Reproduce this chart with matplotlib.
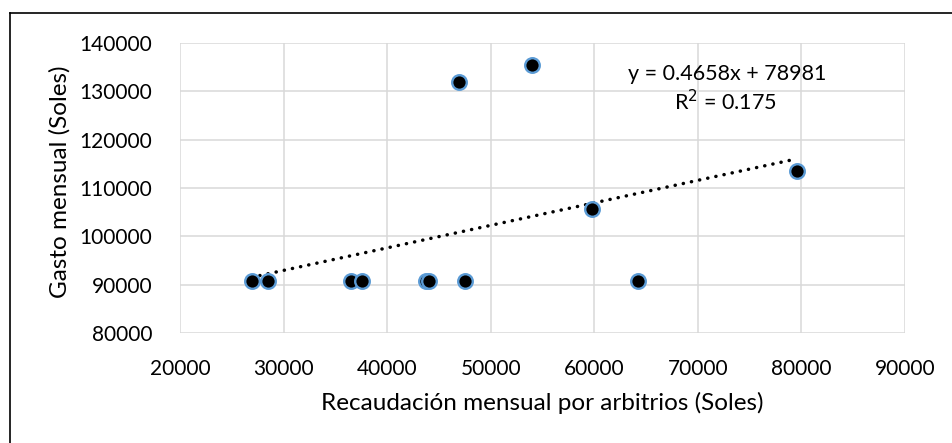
import numpy as np
import matplotlib.pyplot as plt
from matplotlib.lines import Line2D

# Datos
recaudacion = [26920, 28520, 36500, 37600, 43750, 44060, 47500, 46960, 53950, 59800, 64180, 79590]
gasto = [90800, 90800, 90800, 90800, 90800, 90800, 90800, 131870, 135510, 105590, 90820, 113520]

# Línea de tendencia (según la ecuación mostrada)
pendiente = 0.4658
intercepto = 78981
r2 = 0.175

x_ticks = [20000, 30000, 40000, 50000, 60000, 70000, 80000, 90000]
y_ticks = [80000, 90000, 100000, 110000, 120000, 130000, 140000]

plt.rcParams['font.family'] = ['Lato', 'DejaVu Sans']

fig = plt.figure(figsize=(9.52, 4.43), dpi=100)
ax = fig.add_axes([180 / 952, 1 - 333 / 443, 725 / 952, 290 / 443])

ax.set_xlim(20000, 90000)
ax.set_ylim(80000, 140000)
ax.set_xticks(x_ticks)
ax.set_yticks(y_ticks)
ax.grid(True, color="#d9d9d9", linewidth=1.1)
ax.set_axisbelow(True)
for s in ax.spines.values():
    s.set_visible(False)
ax.tick_params(length=0, labelsize=15, colors="black")
ax.tick_params(axis="y", pad=20)
ax.tick_params(axis="x", pad=19)

# Tendencia
xs = np.array([min(recaudacion), max(recaudacion)])
ax.plot(xs, pendiente * xs + intercepto, color="black", linewidth=2.5,
        linestyle=(0, (0.05, 2.35)), dash_capstyle="round", zorder=2)

# Puntos
ax.plot(recaudacion, gasto, linestyle="none", marker="o", markersize=10.5,
        markerfacecolor="black", markeredgecolor="#5b9bd5", markeredgewidth=1.7,
        zorder=3)

fig.text(727 / 952, 1 - 74 / 443, f"y = {pendiente}x + {intercepto}",
         ha="center", va="center", fontsize=15.5)
fig.text(725 / 952, 1 - 102 / 443, f"R$^2$ = {r2}",
         ha="center", va="center", fontsize=15.5)

fig.text(542.5 / 952, 1 - 403 / 443, "Recaudación mensual por arbitrios (Soles)",
         ha="center", va="center", fontsize=17.5)
fig.text(60 / 952, 1 - 182 / 443, "Gasto mensual (Soles)",
         ha="center", va="center", rotation=90, fontsize=17.5)

# Marco exterior (solo bordes visibles)
fig.add_artist(Line2D([10 / 952, 1.0], [1 - 13.3 / 443, 1 - 13.3 / 443],
                      transform=fig.transFigure, color="black", linewidth=1.2))
fig.add_artist(Line2D([10 / 952, 10 / 952], [0.0, 1 - 13.3 / 443],
                      transform=fig.transFigure, color="black", linewidth=1.2))

fig.savefig("out.png", dpi=100)
